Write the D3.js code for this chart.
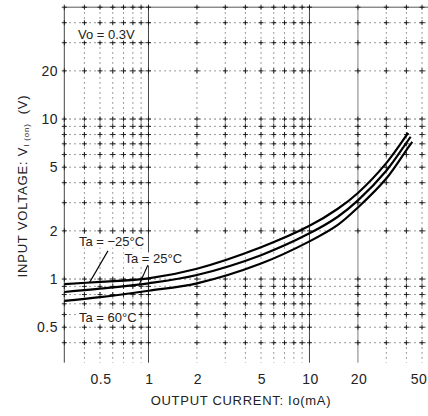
<!DOCTYPE html>
<html>
<head>
<meta charset="utf-8">
<script src="https://cdn.jsdelivr.net/npm/d3@7"></script>
<style>
  body { margin: 0; background: #fff; }
  svg text { font-family: "Liberation Sans", Arial, sans-serif; fill: #222; }
</style>
</head>
<body>
<div id="chart"></div>
<script>
// output current Io (mA)
const current = [0.3, 0.5, 1, 2, 5, 10, 15, 20, 30, 40];
// input voltage Vi(on) (V) per ambient temperature
const vMinus25 = [0.93, 0.96, 1.01, 1.16, 1.58, 2.15, 2.75, 3.45, 5.3, 7.9];
const v25 = [0.83, 0.87, 0.94, 1.06, 1.41, 1.93, 2.45, 3.1, 4.75, 7.1];
const v60 = [0.73, 0.77, 0.845, 0.94, 1.25, 1.72, 2.18, 2.8, 4.25, 6.4];
// last point of each curve
const endCurrent = [41, 42.5, 43.5];
const endVoltage = [8.2, 7.75, 7.2];
const seriesNames = ['Ta = \u221225\u00b0C', 'Ta = 25\u00b0C', 'Ta = 60\u00b0C'];

const xTicks = [0.5, 1, 2, 5, 10, 20, 50];
const yTicks = [0.5, 1, 2, 5, 10, 20];
const xGrid = [0.3, 0.4, 0.5, 0.6, 0.7, 0.8, 0.9, 1, 2, 3, 4, 5, 6, 7, 8, 9, 10, 20, 30, 40, 50];
const yGrid = [0.4, 0.5, 0.6, 0.7, 0.8, 0.9, 1, 2, 3, 4, 5, 6, 7, 8, 9, 10, 20, 30, 40, 50];

const w = 428;
const h = 416;

const svg = d3.select('#chart').append('svg')
    .attr('width', w).attr('height', h);

const x = d3.scaleLog().domain([0.3, 50]).range([64.3, 422]);
const y = d3.scaleLog().domain([0.3, 50]).range([362.7, 7.2]);

// grid (dotted, scanned-datasheet look)
const grid = svg.append('g').attr('stroke', '#444').attr('fill', 'none');
grid.selectAll('.vx').data(xGrid).enter().append('line')
    .attr('x1', d => x(d)).attr('x2', d => x(d))
    .attr('y1', y(50)).attr('y2', y(0.3))
    .attr('stroke-width', d => (d === 1 || d === 10 || d === 0.3) ? 1 : 0.7)
    .attr('stroke-dasharray', d => (d === 1 || d === 10 || d === 20 || d === 0.3) ? null : '1.5,3.5');
grid.selectAll('.hy').data(yGrid).enter().append('line')
    .attr('y1', d => y(d)).attr('y2', d => y(d))
    .attr('x1', x(0.3)).attr('x2', w)
    .attr('stroke-width', d => (d === 1 || d === 10 || d === 50) ? 0.9 : 0.7)
    .attr('stroke-dasharray', d => (d === 50) ? null : '1.5,3.5');

// small crosses at grid intersections
const cross = [];
xGrid.forEach(a => yGrid.forEach(b => cross.push([a, b])));
grid.selectAll('.cx').data(cross).enter().append('path')
    .attr('d', d => `M${x(d[0]) - 2.5},${y(d[1])}h5M${x(d[0])},${y(d[1]) - 2.5}v5`)
    .attr('stroke', '#111').attr('stroke-width', 0.9);

// condition box
svg.append('rect').attr('x', x(0.31)).attr('y', y(38)).attr('width', x(0.95) - x(0.31)).attr('height', y(31) - y(38))
    .attr('fill', '#fff');
svg.append('text').attr('x', (x(0.3) + x(1)) / 2).attr('y', y(34)).attr('dy', '0.36em')
    .attr('text-anchor', 'middle').attr('font-size', 13).text('Vo = 0.3V');

// curves
const line = d3.line().x(d => x(d[0])).y(d => y(d[1])).curve(d3.curveCatmullRom.alpha(0.5));
[vMinus25, v25, v60].forEach((vals, k) => {
    const pts = current.map((c, i) => [c, vals[i]]);
    pts.push([endCurrent[k], endVoltage[k]]);
    svg.append('path').datum(pts)
        .attr('d', line).attr('fill', 'none').attr('stroke', '#000').attr('stroke-width', 2.2);
});

// labels with pointer lines (data coords)
const notes = [
    { t: seriesNames[0], tx: 0.37, ty: 1.73, p: [[0.56, 1.5], [0.43, 0.95]] },
    { t: seriesNames[1], tx: 0.71, ty: 1.34, p: [[0.99, 1.22], [0.875, 0.92]] },
    { t: seriesNames[2], tx: 0.37, ty: 0.58, p: null }
];
notes.forEach(n => {
    const txt = svg.append('text').attr('x', x(n.tx)).attr('y', y(n.ty)).attr('dy', '0.36em')
        .attr('font-size', 13).text(n.t);
    const b = txt.node().getBBox();
    svg.insert('rect', 'text').attr('x', b.x - 1).attr('y', b.y + 1).attr('width', b.width + 2).attr('height', b.height - 2)
        .attr('fill', '#fff');
    if (n.p) {
        svg.append('line').attr('x1', x(n.p[0][0])).attr('y1', y(n.p[0][1]))
            .attr('x2', x(n.p[1][0])).attr('y2', y(n.p[1][1]))
            .attr('stroke', '#000').attr('stroke-width', 1.1);
    }
});

// tick labels
svg.append('g').selectAll('text').data(xTicks).enter().append('text')
    .attr('x', d => Math.min(x(d) + 1, 419)).attr('y', 384).attr('text-anchor', 'middle')
    .attr('font-size', 14).attr('letter-spacing', 0.5).text(d => d);
svg.append('g').selectAll('text').data(yTicks).enter().append('text')
    .attr('x', 58).attr('y', d => y(d)).attr('dy', '0.36em').attr('text-anchor', 'end')
    .attr('font-size', 14).attr('letter-spacing', 0.5).text(d => d);

// axis titles
svg.append('text').attr('x', 241).attr('y', 405).attr('text-anchor', 'middle')
    .attr('font-size', 13).attr('letter-spacing', 0.7).text('OUTPUT CURRENT: Io(mA)');
const yt = svg.append('text').attr('transform', 'translate(27,186) rotate(-90)')
    .attr('text-anchor', 'middle').attr('font-size', 13).attr('letter-spacing', 0.8);
yt.append('tspan').text('INPUT VOLTAGE: V');
yt.append('tspan').attr('font-size', 8).attr('dy', 2).text('I (on)');
yt.append('tspan').attr('dy', -2).attr('dx', 9).text('(V)');
</script>
</body>
</html>
